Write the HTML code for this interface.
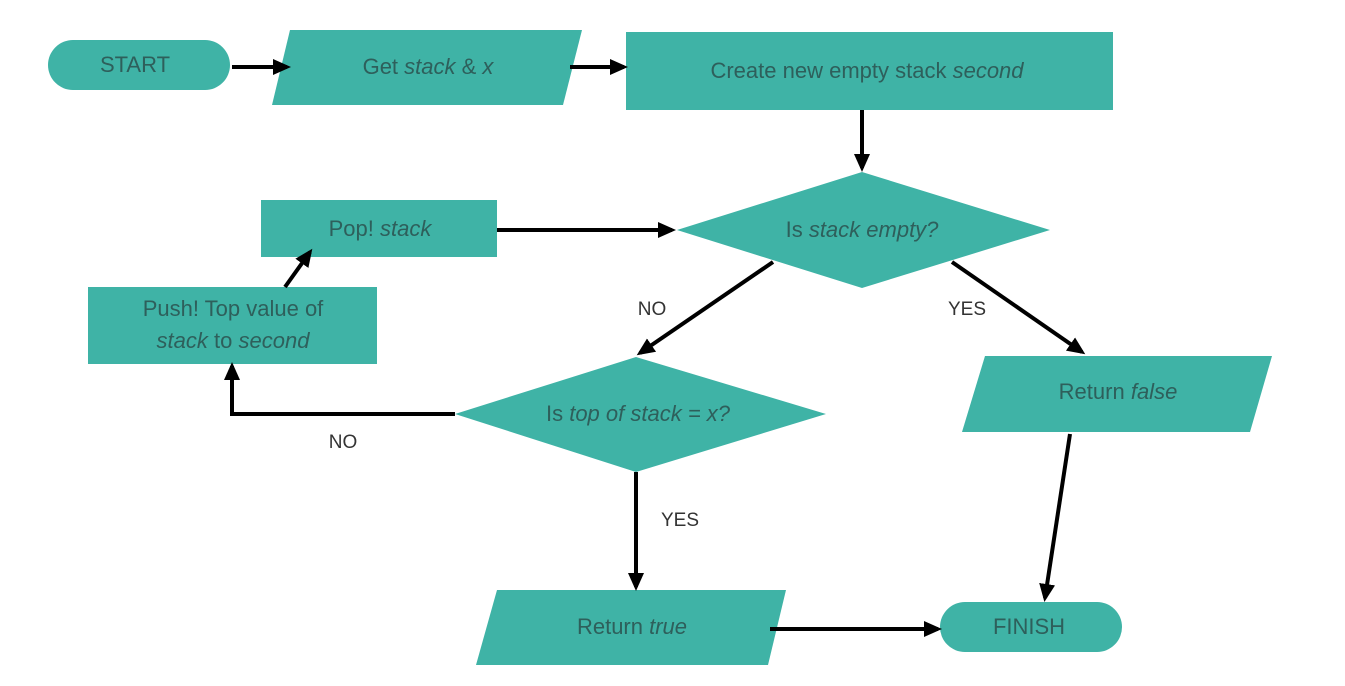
<!DOCTYPE html>
<html><head><meta charset="utf-8"><style>
html,body{margin:0;padding:0;background:#fff;width:1345px;height:686px;overflow:hidden}
text{font-family:"Liberation Sans",sans-serif;fill:#2e5f5b;font-size:22px}
.l{fill:#333;font-size:19px}
</style></head><body>
<svg width="1345" height="686" viewBox="0 0 1345 686">
<defs><marker id="a" markerWidth="10" markerHeight="10" refX="8" refY="5" orient="auto" markerUnits="userSpaceOnUse" viewBox="0 0 10 10"><path d="M0,0 L10,5 L0,10 z" fill="#000"/></marker>
<marker id="b" markerWidth="18" markerHeight="18" refX="14" refY="9" orient="auto" markerUnits="userSpaceOnUse" viewBox="0 0 18 18"><path d="M0,1 L18,9 L0,17 z" fill="#000"/></marker></defs>
<g fill="#3fb3a6">
<rect x="48" y="40" width="182" height="50" rx="25"/>
<polygon points="290,30 582,30 563,105 272,105"/>
<rect x="626" y="32" width="487" height="78"/>
<polygon points="862,172 1050,230 862,288 677,230"/>
<rect x="261" y="200" width="236" height="57"/>
<rect x="88" y="287" width="289" height="77"/>
<polygon points="636,357 826,414 636,472 455,414"/>
<polygon points="985,356 1272,356 1250,432 962,432"/>
<polygon points="497,590 786,590 768,665 476,665"/>
<rect x="940" y="602" width="182" height="50" rx="25"/>
</g>
<g stroke="#000" stroke-width="4" fill="none" marker-end="url(#b)">
<path d="M232,67 L287,67"/>
<path d="M570,67 L624,67"/>
<path d="M862,110 L862,168"/>
<path d="M497,230 L672,230"/>
<path d="M285,287 L310,252"/>
<path d="M773,262 L640,353"/>
<path d="M952,262 L1082,352"/>
<path d="M455,414 L232,414 L232,366"/>
<path d="M636,472 L636,587"/>
<path d="M770,629 L938,629"/>
<path d="M1070,434 L1045,598"/>
</g>
<g text-anchor="middle">
<text x="135" y="72">START</text>
<text x="428" y="74">Get <tspan font-style="italic">stack</tspan> &amp; <tspan font-style="italic">x</tspan></text>
<text x="867" y="78">Create new empty stack <tspan font-style="italic">second</tspan></text>
<text x="862" y="237">Is <tspan font-style="italic">stack empty?</tspan></text>
<text x="380" y="236">Pop! <tspan font-style="italic">stack</tspan></text>
<text x="233" y="316">Push! Top value of</text>
<text x="233" y="348"><tspan font-style="italic">stack</tspan> to <tspan font-style="italic">second</tspan></text>
<text x="638" y="421">Is <tspan font-style="italic">top of stack = x?</tspan></text>
<text x="1118" y="399">Return <tspan font-style="italic">false</tspan></text>
<text x="632" y="634">Return <tspan font-style="italic">true</tspan></text>
<text x="1029" y="634">FINISH</text>
<text class="l" x="652" y="315">NO</text>
<text class="l" x="967" y="315">YES</text>
<text class="l" x="343" y="448">NO</text>
<text class="l" x="680" y="526">YES</text>
</g>
</svg>
</body></html>
